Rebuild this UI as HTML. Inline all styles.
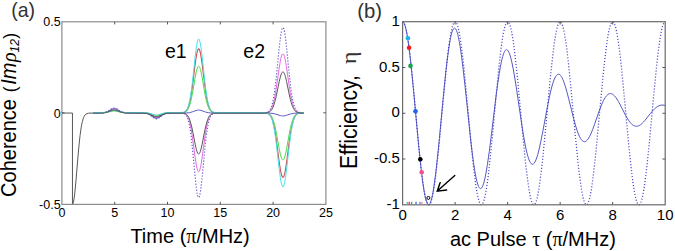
<!DOCTYPE html><html><head><meta charset="utf-8"><style>
html,body{margin:0;padding:0;background:#fff;}body{width:675px;height:251px;overflow:hidden;}
svg{display:block;}text{font-family:"Liberation Sans",sans-serif;}
.sf{font-family:"Liberation Serif",serif;}
</style></head><body>
<svg width="675" height="251" viewBox="0 0 675 251">
<rect width="675" height="251" fill="#fff"/>
<g fill="none" stroke-linejoin="round">
<path d="M93.58 112.80L101.18 112.73L103.08 112.59L104.56 112.34L106.04 111.91L107.31 111.35L108.58 110.64L111.11 109.02L112.17 108.47L112.80 108.22L113.43 108.07L114.49 108.01L115.54 108.22L116.60 108.67L120.19 110.89L121.67 111.65L123.15 112.18L124.63 112.50L126.32 112.69L128.43 112.77L142.79 112.85L144.90 113.01L146.59 113.32L148.07 113.82L149.55 114.61L150.82 115.51L153.35 117.53L154.41 118.22L155.46 118.66L156.31 118.80L157.36 118.66L158.00 118.43L158.63 118.09L159.69 117.37L162.43 115.19L164.12 114.12L165.60 113.50L167.29 113.10L168.98 112.91L171.30 112.82L178.06 112.81L181.02 112.87L182.28 113.00L183.34 113.22L184.18 113.54L185.03 114.07L185.87 114.90L186.51 115.81L187.14 117.02L187.78 118.62L188.41 120.68L188.83 122.35L189.46 125.34L189.89 127.69L190.94 134.88L192.00 143.93L193.06 154.52L195.17 177.21L195.80 183.34L196.43 188.66L197.07 192.92L197.70 195.88L198.12 197.07L198.34 197.41L198.55 197.58L198.76 197.58L198.97 197.41L199.18 197.07L199.39 196.56L199.81 195.05L200.45 191.63L201.08 187.00L202.14 177.21L205.09 145.94L205.94 138.29L206.78 131.78L207.63 126.48L208.47 122.35L209.32 119.25L209.74 118.04L210.37 116.58L210.80 115.81L211.43 114.90L211.85 114.44L212.49 113.91L213.12 113.54L213.75 113.29L214.60 113.07L215.44 112.94L216.92 112.84L219.46 112.80L259.58 112.80L263.81 112.74L265.71 112.56L266.55 112.38L267.19 112.18L267.82 111.88L268.45 111.47L269.09 110.90L269.51 110.41L270.14 109.48L270.78 108.25L271.41 106.68L271.83 105.40L272.47 103.09L272.89 101.27L273.94 95.62L275.00 88.31L276.06 79.39L279.22 47.86L280.28 38.62L280.91 34.15L281.55 30.73L282.18 28.52L282.60 27.77L282.82 27.62L283.03 27.62L283.24 27.77L283.45 28.07L283.66 28.52L284.08 29.85L284.72 32.89L285.35 37.02L285.98 42.09L286.62 47.86L289.15 73.41L290.42 84.92L291.26 91.43L291.90 95.62L292.53 99.20L293.38 103.09L294.22 106.06L295.06 108.25L295.91 109.82L296.33 110.41L296.97 111.11L297.39 111.47L298.02 111.88L298.66 112.18L299.50 112.44L301.19 112.69L303.72 112.78" stroke="#5046c8" stroke-width="1.20" stroke-dasharray="1.1 1.9"/>
<path d="M93.58 112.80L101.18 112.75L103.08 112.62L104.56 112.42L106.04 112.05L107.31 111.59L108.58 111.00L111.11 109.65L112.17 109.19L113.43 108.86L114.49 108.81L115.54 108.99L116.60 109.36L120.19 111.21L121.67 111.84L123.15 112.28L124.63 112.55L126.32 112.71L128.43 112.78L142.79 112.84L144.90 112.97L146.59 113.23L148.07 113.65L149.55 114.31L150.82 115.06L153.35 116.74L154.41 117.31L155.46 117.69L156.31 117.80L157.36 117.69L158.63 117.21L159.69 116.61L162.43 114.79L164.12 113.90L165.60 113.39L167.29 113.05L168.98 112.89L171.09 112.82L180.81 112.84L182.28 112.94L183.34 113.09L184.18 113.32L185.03 113.68L185.87 114.26L186.51 114.89L187.14 115.74L187.78 116.85L188.41 118.28L188.83 119.44L189.46 121.53L189.89 123.16L190.94 128.16L192.00 134.46L193.06 141.83L195.17 157.62L195.80 161.88L196.43 165.58L197.07 168.54L197.70 170.61L198.12 171.43L198.34 171.67L198.55 171.79L198.76 171.79L198.97 171.67L199.18 171.43L199.39 171.07L199.81 170.02L200.45 167.65L201.08 164.42L202.14 157.62L205.09 135.86L205.94 130.53L206.78 126.00L207.63 122.32L208.47 119.44L209.32 117.29L209.74 116.45L210.37 115.43L210.80 114.89L211.43 114.26L212.49 113.57L213.75 113.14L215.44 112.90L219.46 112.80L263.81 112.76L265.71 112.64L267.19 112.37L268.45 111.88L269.51 111.15L270.14 110.50L270.78 109.65L271.41 108.56L272.04 107.18L273.10 104.12L274.16 99.98L275.00 95.84L276.06 89.67L279.22 67.83L280.28 61.43L280.91 58.34L281.55 55.97L282.18 54.44L282.60 53.92L282.82 53.81L283.03 53.81L283.24 53.92L283.45 54.13L283.87 54.85L284.50 56.67L285.14 59.29L285.77 62.60L286.41 66.45L289.15 85.52L290.42 93.49L291.26 98.00L291.90 100.90L292.53 103.38L293.38 106.08L294.22 108.13L295.06 109.65L295.91 110.74L296.33 111.15L296.97 111.63L298.02 112.16L299.50 112.55L301.19 112.72L303.72 112.79" stroke="#e46ae4" stroke-width="1.00"/>
<path d="M93.58 112.80L101.18 112.77L104.56 112.56L106.04 112.33L107.31 112.05L112.17 110.54L113.43 110.33L114.70 110.32L115.54 110.42L116.60 110.65L119.98 111.74L121.46 112.15L122.94 112.45L124.42 112.63L128.43 112.79L142.58 112.83L144.69 112.91L146.38 113.07L147.86 113.35L149.34 113.78L150.60 114.28L153.35 115.56L154.41 115.96L155.46 116.22L156.52 116.30L157.36 116.22L158.42 115.96L159.47 115.56L162.01 114.38L163.28 113.86L164.75 113.40L166.23 113.10L167.92 112.92L169.82 112.84L179.12 112.79L181.65 112.71L182.71 112.60L183.55 112.43L184.40 112.16L185.03 111.84L185.87 111.21L186.51 110.53L187.14 109.61L187.78 108.41L188.41 106.85L188.83 105.59L189.46 103.33L189.89 101.56L190.94 96.13L192.00 89.31L193.06 81.31L195.17 64.19L195.80 59.56L196.43 55.54L197.07 52.33L197.70 50.10L198.12 49.20L198.34 48.95L198.55 48.82L198.76 48.82L198.97 48.95L199.18 49.20L199.39 49.59L199.81 50.73L200.45 53.30L201.08 56.80L202.14 64.19L205.09 87.79L205.94 93.56L206.78 98.48L207.63 102.47L208.47 105.59L209.32 107.93L209.74 108.84L210.37 109.95L210.80 110.53L211.43 111.21L211.85 111.56L212.49 111.96L213.12 112.24L213.75 112.43L215.44 112.69L219.46 112.80L263.81 112.85L265.71 112.98L267.19 113.27L267.82 113.50L268.45 113.81L269.51 114.61L270.14 115.32L270.78 116.25L271.41 117.44L271.83 118.41L272.47 120.16L272.89 121.54L273.94 125.83L275.00 131.37L276.06 138.13L279.22 162.04L280.28 169.04L280.91 172.43L281.55 175.03L282.18 176.70L282.60 177.27L282.82 177.39L283.03 177.39L283.24 177.27L283.45 177.04L283.66 176.70L284.08 175.69L284.72 173.39L285.35 170.25L285.98 166.42L286.62 162.04L289.15 142.67L290.42 133.94L291.26 129.00L291.90 125.83L292.53 123.11L293.38 120.16L294.22 117.91L295.06 116.25L295.91 115.06L296.33 114.61L296.97 114.08L298.02 113.50L298.66 113.27L299.50 113.07L301.19 112.89L303.72 112.81" stroke="#c85252" stroke-width="1.10"/>
<path d="M93.58 112.80L101.18 112.78L104.56 112.63L107.31 112.26L112.17 111.18L113.43 111.02L114.70 111.01L116.60 111.25L121.46 112.33L122.94 112.54L124.42 112.67L128.43 112.79L142.58 112.82L144.69 112.88L146.38 112.99L147.86 113.19L149.34 113.50L154.41 115.06L155.46 115.24L156.52 115.30L157.36 115.24L158.42 115.06L163.28 113.55L164.75 113.23L166.23 113.02L169.82 112.83L181.65 112.73L183.55 112.53L184.40 112.33L185.03 112.10L185.87 111.64L186.51 111.15L187.14 110.48L187.78 109.60L188.41 108.47L188.83 107.55L189.89 104.62L190.94 100.67L192.00 95.69L193.06 89.87L195.17 77.40L195.80 74.03L196.43 71.11L197.07 68.77L197.70 67.14L198.12 66.49L198.34 66.31L198.55 66.21L198.76 66.21L199.18 66.49L199.39 66.77L199.81 67.60L200.45 69.48L201.08 72.03L202.14 77.40L205.09 94.59L205.94 98.79L206.78 102.37L207.63 105.28L208.47 107.55L209.32 109.25L209.74 109.92L210.37 110.72L210.80 111.15L211.43 111.64L212.49 112.19L213.75 112.53L215.44 112.72L219.46 112.80L263.81 112.83L265.71 112.93L267.19 113.14L268.45 113.54L269.51 114.12L270.14 114.64L270.78 115.32L271.41 116.19L271.83 116.90L272.89 119.19L273.94 122.32L275.00 126.37L276.06 131.31L279.22 148.78L280.28 153.90L280.91 156.37L281.55 158.26L282.18 159.49L282.60 159.91L282.82 159.99L283.03 159.99L283.45 159.74L283.66 159.49L284.08 158.75L284.72 157.07L285.35 154.78L285.98 151.97L286.62 148.78L289.15 134.62L290.42 128.24L291.26 124.64L291.90 122.32L292.53 120.33L293.38 118.18L294.22 116.53L295.06 115.32L295.91 114.45L296.97 113.74L298.02 113.31L299.50 113.00L301.19 112.86L303.72 112.81" stroke="#4cd84c" stroke-width="1.00"/>
<path d="M93.58 113.05L101.18 112.99L103.08 112.86L104.56 112.63L106.04 112.23L107.31 111.72L108.58 111.07L111.11 109.58L112.17 109.08L113.43 108.71L114.49 108.66L115.54 108.86L116.60 109.26L120.19 111.30L121.67 112.00L123.15 112.48L124.63 112.78L126.32 112.95L128.43 113.02L142.79 113.10L144.90 113.23L146.59 113.51L148.07 113.95L149.55 114.65L150.82 115.44L153.35 117.23L154.41 117.83L155.46 118.23L156.31 118.35L157.36 118.23L158.42 117.83L159.47 117.23L162.22 115.30L163.49 114.53L164.97 113.88L166.66 113.42L168.13 113.21L170.25 113.09L183.97 113.03L186.30 112.96L187.99 112.82L189.46 112.61L190.94 112.27L192.42 111.80L196.01 110.49L197.28 110.18L198.34 110.06L199.60 110.11L200.87 110.37L202.14 110.77L205.30 111.95L206.99 112.43L208.68 112.74L210.37 112.92L212.49 113.01L215.44 113.04L263.81 113.05L269.51 113.13L272.04 113.33L274.16 113.68L276.06 114.19L280.28 115.57L281.55 115.84L282.60 115.94L283.87 115.90L285.14 115.68L286.41 115.33L290.42 114.00L291.90 113.63L293.38 113.38L295.06 113.20L296.97 113.11L303.72 113.05" stroke="#5a5ac8" stroke-width="1.00"/>
<path d="M93.58 112.55L101.18 112.52L104.56 112.36L106.04 112.18L107.31 111.95L112.17 110.74L113.43 110.58L114.49 110.56L115.54 110.64L116.60 110.83L120.19 111.75L121.67 112.07L123.15 112.29L124.63 112.43L128.43 112.54L142.79 112.57L144.90 112.64L146.59 112.77L148.07 112.98L149.55 113.30L154.41 114.81L155.46 114.99L156.52 115.05L157.57 114.97L158.63 114.76L163.06 113.36L164.33 113.06L165.81 112.81L167.50 112.66L169.40 112.58L178.90 112.54L181.44 112.46L182.71 112.32L183.55 112.13L184.40 111.81L185.03 111.45L185.87 110.72L186.51 109.94L187.14 108.89L187.78 107.50L188.41 105.71L188.83 104.26L189.46 101.66L189.89 99.62L190.94 93.38L192.00 85.53L193.06 76.34L195.17 56.64L195.80 51.32L196.43 46.71L197.07 43.01L197.70 40.44L198.12 39.41L198.34 39.12L198.55 38.97L198.76 38.97L198.97 39.12L199.18 39.41L199.39 39.85L199.81 41.16L200.45 44.13L201.08 48.15L202.14 56.64L205.09 83.79L205.94 90.43L206.78 96.08L207.63 100.68L208.47 104.26L209.32 106.95L209.74 108.00L210.37 109.27L210.80 109.94L211.43 110.72L211.85 111.13L212.49 111.58L213.12 111.91L213.75 112.13L215.44 112.43L216.92 112.51L219.46 112.55L259.58 112.55L263.81 112.60L265.71 112.76L267.19 113.09L267.82 113.35L268.45 113.71L269.09 114.21L269.51 114.63L270.14 115.45L270.78 116.51L271.41 117.89L271.83 119.01L272.47 121.02L272.89 122.61L273.94 127.53L275.00 133.91L276.06 141.68L279.22 169.19L280.28 177.24L280.91 181.14L281.55 184.12L282.18 186.05L282.60 186.70L282.82 186.83L283.03 186.83L283.24 186.70L283.45 186.44L283.66 186.05L284.08 184.88L284.72 182.24L285.35 178.63L285.98 174.22L286.62 169.19L289.15 146.90L290.42 136.86L291.26 131.19L291.90 127.53L292.53 124.41L293.38 121.02L294.22 118.43L295.06 116.51L295.91 115.15L296.33 114.63L296.97 114.02L298.02 113.35L298.66 113.09L299.50 112.87L301.19 112.65L303.72 112.56" stroke="#46e1e6" stroke-width="1.00"/>
<path d="M61.90 113.05L72.46 113.05L72.46 204.25L72.67 204.15L72.88 203.86L73.09 203.37L73.52 201.82L74.15 198.15L74.78 193.06L75.84 182.19L77.95 156.95L79.01 145.30L80.06 135.50L81.12 127.85L81.75 124.28L82.39 121.41L83.02 119.15L83.65 117.42L84.29 116.12L85.13 114.91L85.98 114.14L87.03 113.58L88.30 113.26L89.99 113.10L100.76 113.02L102.66 112.95L104.35 112.79L105.83 112.54L107.31 112.14L111.11 110.69L112.17 110.34L113.22 110.12L114.28 110.05L115.33 110.15L116.39 110.40L120.19 111.86L121.67 112.33L123.15 112.66L124.63 112.86L126.32 112.98L128.43 113.03L142.79 113.09L144.90 113.19L146.59 113.39L147.86 113.67L149.13 114.09L150.60 114.75L153.98 116.49L155.04 116.86L156.10 117.04L157.15 116.99L158.21 116.74L159.47 116.20L162.22 114.75L163.70 114.09L165.39 113.57L167.08 113.27L168.77 113.13L170.88 113.07L180.59 113.08L183.34 113.25L184.18 113.41L185.03 113.66L185.87 114.07L186.51 114.50L187.14 115.09L187.78 115.86L188.41 116.86L188.83 117.67L189.89 120.25L190.94 123.73L192.00 128.10L193.06 133.22L195.17 144.19L195.80 147.16L196.43 149.73L197.07 151.79L197.70 153.22L198.12 153.79L198.34 153.96L198.55 154.04L198.76 154.04L199.18 153.79L199.39 153.55L199.81 152.82L200.45 151.16L201.08 148.92L202.14 144.19L205.09 129.07L205.94 125.37L206.78 122.23L207.63 119.66L208.47 117.67L209.32 116.17L209.74 115.58L210.37 114.88L211.43 114.07L212.49 113.59L213.75 113.28L215.44 113.12L219.46 113.05L263.81 113.02L265.71 112.94L267.19 112.75L268.45 112.41L269.51 111.89L270.14 111.44L270.78 110.85L271.41 110.09L271.83 109.47L272.89 107.47L273.94 104.74L275.00 101.21L276.06 96.90L279.22 81.64L280.28 77.18L280.91 75.02L281.55 73.36L282.18 72.29L282.60 71.93L282.82 71.86L283.03 71.86L283.45 72.08L283.66 72.29L284.08 72.94L284.72 74.41L285.35 76.41L285.98 78.86L286.62 81.64L289.15 94.00L290.42 99.57L291.26 102.72L291.90 104.74L292.53 106.47L293.38 108.36L294.22 109.79L295.06 110.85L295.91 111.61L296.97 112.23L298.02 112.61L299.50 112.88L301.19 113.00L303.72 113.04" stroke="#585858" stroke-width="1.00"/>
</g>
<rect x="61.90" y="21.80" width="264.00" height="182.60" fill="none" stroke="#8c8c8c" stroke-width="1.2"/>
<path d="M114.70 204.40v-2.6M114.70 21.80v2.6M167.50 204.40v-2.6M167.50 21.80v2.6M220.30 204.40v-2.6M220.30 21.80v2.6M273.10 204.40v-2.6M273.10 21.80v2.6M61.90 112.80h2.6M325.90 112.80h-2.6" stroke="#555" stroke-width="1" fill="none"/>
<g transform="translate(60.60,26.10) scale(0.1000,0.1000)"><text font-size="125.0" text-anchor="end">0.5</text></g>
<g transform="translate(60.60,117.60) scale(0.1000,0.1000)"><text font-size="125.0" text-anchor="end">0</text></g>
<g transform="translate(60.60,208.70) scale(0.1000,0.1000)"><text font-size="125.0" text-anchor="end">-0.5</text></g>
<g transform="translate(61.90,216.60) scale(0.1000,0.1000)"><text font-size="125.0" text-anchor="middle">0</text></g>
<g transform="translate(114.70,216.60) scale(0.1000,0.1000)"><text font-size="125.0" text-anchor="middle">5</text></g>
<g transform="translate(167.50,216.60) scale(0.1000,0.1000)"><text font-size="125.0" text-anchor="middle">10</text></g>
<g transform="translate(220.30,216.60) scale(0.1000,0.1000)"><text font-size="125.0" text-anchor="middle">15</text></g>
<g transform="translate(273.10,216.60) scale(0.1000,0.1000)"><text font-size="125.0" text-anchor="middle">20</text></g>
<g transform="translate(325.90,216.60) scale(0.1000,0.1000)"><text font-size="125.0" text-anchor="middle">25</text></g>
<g transform="translate(164.90,57.70) scale(0.1000,0.1000)"><text font-size="195.0">e1</text></g>
<g transform="translate(243.30,57.70) scale(0.1000,0.1000)"><text font-size="195.0">e2</text></g>
<g transform="translate(11.15,17.40) scale(0.0930,0.1000)"><text font-size="210.0" fill="#333">(a)</text></g>
<g transform="translate(357.30,17.90) scale(0.0965,0.1000)"><text font-size="210.0" fill="#333">(b)</text></g>
<g transform="translate(130.40,242.90) scale(0.1000,0.1000)"><text font-size="200.0">Time (<tspan class="sf">&#960;</tspan>/MHz)</text></g>
<g transform="translate(449.90,246.00) scale(0.1000,0.1000)"><text font-size="200.0">ac Pulse <tspan class="sf">&#964;</tspan> (<tspan class="sf">&#960;</tspan>/MHz)</text></g>
<g transform="translate(16.00,196.90) rotate(-90) scale(0.1000,0.1070)"><text font-size="200.0">Coherence <tspan dx="12" font-size="175">(</tspan><tspan font-style="italic" dx="18">Im</tspan><tspan class="sf" font-style="italic" dx="6">&#961;</tspan><tspan font-style="italic" font-size="120" dy="32" dx="-2">12</tspan><tspan dy="-32" dx="4" font-size="175">)</tspan></text></g>
<g transform="translate(356.60,169.00) rotate(-90) scale(0.1000,0.1100)"><text font-size="210.0">Efficiency,</text></g>
<g transform="translate(356.40,64.20) rotate(-90) scale(0.1220,0.1000)"><text font-size="200.0" class="sf" fill="#333">&#951;</text></g>
<g fill="none">
<path d="M402.60 21.70L402.86 21.75L403.13 21.88L403.39 22.11L403.91 22.84L404.70 24.61L405.49 27.18L406.01 29.32L406.80 33.16L407.59 37.72L408.38 42.95L409.95 55.27L411.79 72.23L413.63 91.19L418.62 145.25L420.19 160.84L421.77 174.73L422.82 182.79L423.61 188.12L424.40 192.77L425.18 196.71L425.97 199.90L426.76 202.31L427.55 203.91L428.07 204.54L428.33 204.71L428.60 204.79L428.86 204.78L429.12 204.64L429.65 204.07L429.91 203.65L430.44 202.54L431.22 200.21L431.75 198.23L432.54 194.62L433.32 190.30L434.11 185.29L435.69 173.43L437.53 157.02L439.36 138.62L443.04 99.62L444.62 83.52L446.19 68.64L447.77 55.51L448.82 47.96L449.61 43.01L450.39 38.71L451.18 35.12L451.97 32.24L452.76 30.12L453.28 29.12L453.54 28.75L454.07 28.27L454.33 28.15L454.59 28.12L454.86 28.18L455.12 28.32L455.65 28.86L456.43 30.30L457.22 32.48L457.75 34.33L458.53 37.68L459.32 41.70L460.11 46.33L461.68 57.25L463.26 70.04L465.10 86.66L470.35 136.76L471.93 150.38L473.50 162.45L474.55 169.44L475.34 174.05L476.13 178.07L476.92 181.47L477.70 184.23L478.49 186.33L479.28 187.75L479.80 188.32L480.07 188.49L480.59 188.60L480.85 188.55L481.38 188.20L481.64 187.92L482.17 187.13L482.96 185.41L483.48 183.90L484.27 181.13L485.06 177.78L485.84 173.87L487.42 164.58L489.26 151.67L491.10 137.19L496.09 95.92L497.66 84.05L499.24 73.47L500.29 67.32L501.07 63.24L501.86 59.65L502.65 56.59L503.70 53.37L504.49 51.60L505.28 50.41L505.54 50.15L506.06 49.81L506.59 49.72L506.85 49.78L507.38 50.08L507.64 50.32L508.17 50.99L508.95 52.46L509.48 53.74L510.27 56.07L511.05 58.90L511.84 62.18L513.42 69.96L514.99 79.09L516.83 90.97L522.08 126.76L523.66 136.47L525.23 145.09L526.28 150.09L527.07 153.40L527.86 156.30L528.65 158.77L529.70 161.37L530.49 162.78L531.27 163.72L531.54 163.93L532.06 164.20L532.59 164.26L532.85 164.21L533.37 163.96L534.16 163.21L534.95 162.02L535.48 160.99L536.26 159.11L537.05 156.85L537.84 154.22L539.41 148.02L540.99 140.76L542.83 131.35L547.82 104.58L549.39 96.89L550.97 90.03L552.02 86.03L552.81 83.37L553.59 81.03L554.38 79.02L555.43 76.87L556.22 75.67L557.01 74.84L557.80 74.36L558.32 74.24L559.11 74.36L559.90 74.83L560.69 75.64L561.21 76.36L562.00 77.70L562.79 79.34L563.57 81.25L565.15 85.82L566.72 91.20L568.56 98.20L573.82 119.29L575.39 125.01L576.97 130.09L578.02 133.04L578.80 134.99L579.59 136.72L580.38 138.19L581.43 139.76L582.22 140.63L583.01 141.24L583.79 141.58L584.32 141.66L585.11 141.57L585.89 141.22L586.68 140.62L587.21 140.10L588.00 139.12L588.78 137.92L589.57 136.53L591.15 133.22L592.72 129.34L594.56 124.30L599.55 109.97L601.13 105.86L602.44 102.77L603.49 100.56L604.28 99.08L605.06 97.76L605.85 96.61L606.64 95.64L607.43 94.85L608.22 94.25L609.00 93.83L609.79 93.60L610.58 93.55L611.37 93.68L612.15 93.98L612.94 94.45L613.73 95.08L614.52 95.86L615.31 96.78L616.88 98.99L618.46 101.60L620.30 105.01L625.55 115.26L627.12 118.04L628.70 120.51L629.75 121.95L630.54 122.90L631.32 123.74L632.11 124.47L632.90 125.07L633.69 125.56L634.48 125.92L635.26 126.15L636.05 126.26L636.84 126.25L637.63 126.12L638.41 125.88L639.20 125.53L639.99 125.08L640.78 124.53L641.83 123.67L643.40 122.12L644.98 120.33L650.49 113.36L652.60 110.87L654.70 108.71L655.75 107.80L656.80 107.00L657.85 106.34L658.90 105.81L659.95 105.42L661.00 105.17L662.05 105.06L663.10 105.09L664.15 105.25L665.20 105.53" stroke="#5656c6" stroke-width="1.0"/>
<path d="M402.60 21.70L402.86 21.75L403.39 22.11L403.65 22.42L404.18 23.32L404.96 25.34L405.49 27.11L406.01 29.23L406.80 33.02L407.59 37.53L408.38 42.71L409.43 50.58L411.00 64.20L412.58 79.55L417.83 136.02L419.67 154.81L421.51 171.61L423.08 183.79L423.87 188.97L424.66 193.48L425.45 197.27L425.97 199.39L426.76 201.92L427.55 203.67L428.07 204.39L428.33 204.62L428.60 204.75L428.86 204.80L429.12 204.75L429.39 204.62L429.65 204.39L430.17 203.67L430.96 201.92L431.75 199.39L432.27 197.27L433.06 193.48L433.85 188.97L434.64 183.79L436.21 171.61L438.05 154.81L439.89 136.02L445.14 79.55L446.72 64.20L448.29 50.58L449.34 42.71L450.13 37.53L450.92 33.02L451.71 29.23L452.23 27.11L452.76 25.34L453.54 23.32L454.07 22.42L454.33 22.11L454.86 21.75L455.12 21.70L455.38 21.75L455.65 21.88L455.91 22.11L456.43 22.83L457.22 24.58L458.01 27.11L458.80 30.41L459.58 34.45L460.37 39.18L461.16 44.58L462.74 57.14L464.57 74.27L466.15 90.48L471.40 146.95L472.98 162.30L474.29 173.79L475.87 185.59L476.65 190.55L477.44 194.82L478.23 198.37L479.02 201.16L479.80 203.18L480.33 204.08L480.59 204.39L481.12 204.75L481.38 204.80L481.64 204.75L482.17 204.39L482.43 204.08L482.96 203.18L483.74 201.16L484.53 198.37L485.32 194.82L486.11 190.55L486.89 185.59L487.68 179.99L488.73 171.61L490.57 154.81L492.41 136.02L497.66 79.55L499.24 64.20L500.81 50.58L501.86 42.71L502.65 37.53L503.44 33.02L504.23 29.23L504.75 27.11L505.28 25.34L506.06 23.32L506.59 22.42L506.85 22.11L507.38 21.75L507.64 21.70L507.90 21.75L508.43 22.11L508.69 22.42L509.22 23.32L510.00 25.34L510.79 28.13L511.58 31.68L512.37 35.95L513.15 40.91L513.94 46.51L515.52 59.44L517.09 74.27L518.93 93.28L523.66 144.26L524.97 157.35L526.28 169.36L527.86 181.92L529.17 190.55L529.96 194.82L530.75 198.37L531.54 201.16L532.06 202.60L532.59 203.67L533.11 204.39L533.64 204.75L533.90 204.80L534.16 204.75L534.69 204.39L534.95 204.08L535.48 203.18L536.26 201.16L536.79 199.39L537.31 197.27L538.10 193.48L539.15 187.32L539.94 181.92L540.99 173.79L542.83 157.35L544.93 136.02L550.18 79.55L551.76 64.20L553.33 50.58L554.38 42.71L555.17 37.53L555.96 33.02L556.75 29.23L557.27 27.11L557.80 25.34L558.58 23.32L559.11 22.42L559.37 22.11L559.90 21.75L560.16 21.70L560.42 21.75L560.95 22.11L561.21 22.42L561.74 23.32L562.52 25.34L563.05 27.11L563.57 29.23L564.36 33.02L565.15 37.53L565.94 42.71L566.99 50.58L568.56 64.20L570.14 79.55L575.39 136.02L577.23 154.81L579.07 171.61L580.12 179.99L580.91 185.59L581.96 192.05L582.74 196.09L583.53 199.39L584.32 201.92L585.11 203.67L585.63 204.39L585.89 204.62L586.16 204.75L586.42 204.80L586.68 204.75L586.95 204.62L587.47 204.08L588.00 203.18L588.78 201.16L589.57 198.37L590.36 194.82L591.15 190.55L591.93 185.59L593.51 173.79L594.82 162.30L596.40 146.95L601.65 90.48L603.23 74.27L605.06 57.14L606.64 44.58L607.43 39.18L608.22 34.45L609.00 30.41L609.79 27.11L610.58 24.58L611.37 22.83L611.89 22.11L612.15 21.88L612.42 21.75L612.68 21.70L612.94 21.75L613.47 22.11L613.73 22.42L614.26 23.32L615.04 25.34L615.57 27.11L616.09 29.23L616.88 33.02L617.67 37.53L618.46 42.71L619.51 50.58L621.08 64.20L622.66 79.55L627.91 136.02L629.75 154.81L631.59 171.61L632.64 179.99L633.43 185.59L634.21 190.55L635.00 194.82L635.79 198.37L636.58 201.16L637.36 203.18L637.89 204.08L638.15 204.39L638.68 204.75L638.94 204.80L639.20 204.75L639.47 204.62L639.73 204.39L640.25 203.67L641.04 201.92L641.83 199.39L642.62 196.09L643.40 192.05L644.19 187.32L644.98 181.92L646.03 173.79L647.34 162.30L648.92 146.95L654.17 90.48L656.01 71.69L657.85 54.89L659.42 42.71L660.21 37.53L661.00 33.02L661.79 29.23L662.31 27.11L663.10 24.58L663.89 22.83L664.41 22.11L664.67 21.88L664.94 21.75L665.20 21.70" stroke="#4646c8" stroke-width="1.25" stroke-dasharray="1.1 1.9"/>
</g>
<rect x="402.60" y="21.70" width="262.60" height="183.10" fill="none" stroke="#6a6a6a" stroke-width="1.2"/>
<path d="M455.12 204.80v-2.8M455.12 21.70v2.8M507.64 204.80v-2.8M507.64 21.70v2.8M560.16 204.80v-2.8M560.16 21.70v2.8M612.68 204.80v-2.8M612.68 21.70v2.8M402.60 67.48h2.8M665.20 67.48h-2.8M402.60 113.25h2.8M665.20 113.25h-2.8M402.60 159.03h2.8M665.20 159.03h-2.8" stroke="#555" stroke-width="1" fill="none"/>
<g transform="translate(399.80,25.90) scale(0.1000,0.1000)"><text font-size="150.0" text-anchor="end">1</text></g>
<g transform="translate(399.80,71.68) scale(0.1000,0.1000)"><text font-size="150.0" text-anchor="end">0.5</text></g>
<g transform="translate(399.80,117.45) scale(0.1000,0.1000)"><text font-size="150.0" text-anchor="end">0</text></g>
<g transform="translate(399.80,163.22) scale(0.1000,0.1000)"><text font-size="150.0" text-anchor="end">-0.5</text></g>
<g transform="translate(399.80,209.00) scale(0.1000,0.1000)"><text font-size="150.0" text-anchor="end">-1</text></g>
<g transform="translate(402.60,220.30) scale(0.1000,0.1000)"><text font-size="150.0" text-anchor="middle">0</text></g>
<g transform="translate(455.12,220.30) scale(0.1000,0.1000)"><text font-size="150.0" text-anchor="middle">2</text></g>
<g transform="translate(507.64,220.30) scale(0.1000,0.1000)"><text font-size="150.0" text-anchor="middle">4</text></g>
<g transform="translate(560.16,220.30) scale(0.1000,0.1000)"><text font-size="150.0" text-anchor="middle">6</text></g>
<g transform="translate(612.68,220.30) scale(0.1000,0.1000)"><text font-size="150.0" text-anchor="middle">8</text></g>
<g transform="translate(665.20,220.30) scale(0.1000,0.1000)"><text font-size="150.0" text-anchor="middle">10</text></g>
<rect x="406.60" y="201.8" width="1.4" height="2.6" fill="#3cc8f0"/>
<rect x="408.50" y="201.8" width="1.4" height="2.6" fill="#f03c3c"/>
<rect x="410.90" y="201.8" width="1.4" height="2.6" fill="#28b45a"/>
<rect x="415.30" y="201.8" width="1.4" height="2.6" fill="#3c78f0"/>
<rect x="419.30" y="201.8" width="1.4" height="2.6" fill="#7a8ab4"/>
<rect x="421.20" y="201.8" width="1.4" height="2.6" fill="#f58cb4"/>
<circle cx="407.90" cy="38.20" r="2.3" fill="#1eb4f0"/>
<circle cx="409.10" cy="47.70" r="2.3" fill="#f01e1e"/>
<circle cx="410.50" cy="65.90" r="2.3" fill="#1ea050"/>
<circle cx="415.50" cy="111.20" r="2.3" fill="#1e64f0"/>
<circle cx="420.30" cy="159.20" r="2.3" fill="#000"/>
<circle cx="421.70" cy="172.20" r="2.3" fill="#f5508c"/>
<circle cx="428.4" cy="197.9" r="1.5" fill="none" stroke="#000" stroke-width="1"/>
<path d="M454.8 175.5L437.6 190.8M440.2 182.6L437.2 191.2L446.6 190.0" fill="none" stroke="#000" stroke-width="1.4" stroke-linecap="round" stroke-linejoin="miter"/>
</svg></body></html>
